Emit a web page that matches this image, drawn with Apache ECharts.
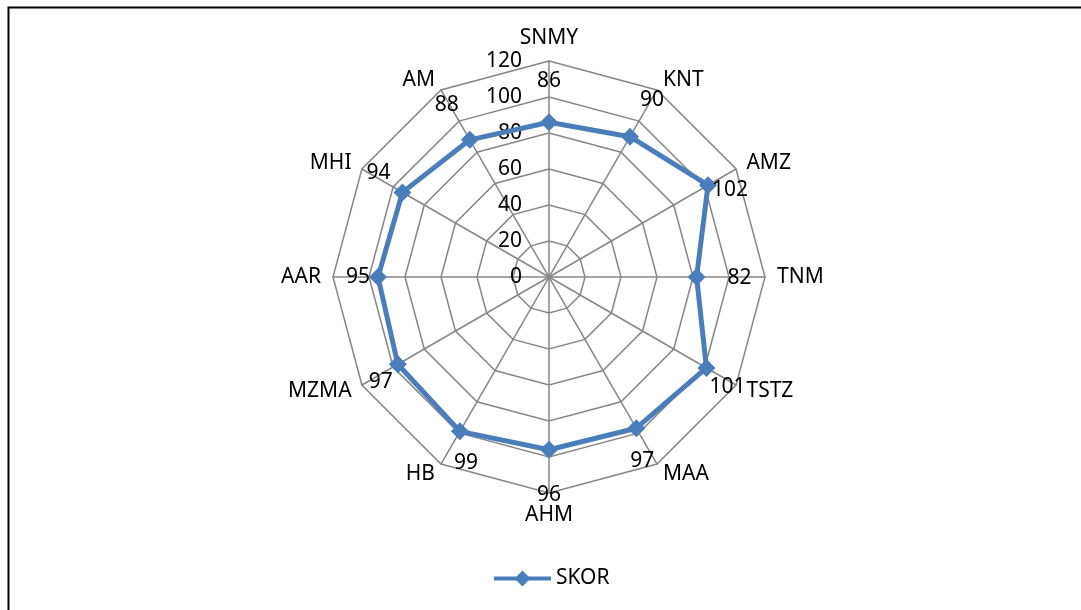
<!DOCTYPE html>
<html>
<head>
<meta charset="utf-8">
<script src="https://cdn.jsdelivr.net/npm/echarts@6/dist/echarts.min.js"></script>
<style>
html,body{margin:0;padding:0;background:#fff;}
#c{width:1081px;height:610px;}
</style>
</head>
<body>
<div id="c"></div>
<script>
// Data (clockwise from top)
const categories = ['SNMY','KNT','AMZ','TNM','TSTZ','MAA','AHM','HB','MZMA','AAR','MHI','AM'];
const skor = [86, 90, 102, 82, 101, 97, 96, 99, 97, 95, 94, 88];
const seriesName = 'SKOR';
const axisMax = 120;
const axisStep = 20;

// Style: data-label offsets (px) relative to each point, clockwise order
const labelOffsets = [[0,-41],[22,-37],[22,5],[43,1],[21,19],[6,33],[0,45],[6,32],[-17,18],[-20,0],[-24,-19],[-23,-35]];

const FONT = 'Noto Sans';
const BLUE = '#4A7EBB';
const GRIDC = '#878787';

// ECharts radar lays indicators counter-clockwise: reorder for clockwise reading
const order = [0].concat(categories.map((_, i) => i).slice(1).reverse());
const indicators = order.map((idx, k) => {
  const ind = { name: categories[idx], min: 0, max: axisMax };
  if (k === 0) ind.axisLabel = { show: true };
  return ind;
});
const radarValues = order.map(idx => skor[idx]);

const chart = echarts.init(document.getElementById('c'));
chart.setOption({
  animation: false,
  backgroundColor: '#fff',
  textStyle: { fontFamily: FONT },
  graphic: [{
    type: 'rect', left: 6, top: 5, silent: true,
    shape: { width: 1100, height: 700 },
    style: { fill: 'none', stroke: '#000', lineWidth: 2 }
  }],
  legend: {
    data: [seriesName],
    left: 487, top: 563,
    itemWidth: 57, itemHeight: 20, itemGap: 10,
    lineStyle: { width: 4 },
    textStyle: { fontSize: 21, color: '#000', fontFamily: FONT }
  },
  grid: { left: 0, top: 0, width: 10, height: 10, show: false },
  xAxis: { show: false, type: 'value' },
  yAxis: { show: false, type: 'value' },
  radar: {
    center: [549, 277],
    radius: 216,
    startAngle: 90,
    shape: 'polygon',
    splitNumber: axisMax / axisStep,
    nameGap: 12,
    axisName: { color: '#000', fontSize: 21, fontFamily: FONT },
    axisLine: { lineStyle: { color: GRIDC, width: 1.5 } },
    splitLine: { lineStyle: { color: GRIDC, width: 1.5 } },
    splitArea: { show: false },
    axisTick: { show: false },
    axisLabel: { show: false, color: '#000', fontSize: 21, fontFamily: FONT, margin: 27 },
    indicator: indicators
  },
  polar: { center: [549, 277], radius: 216 },
  angleAxis: {
    type: 'category', data: categories, startAngle: 90, clockwise: true,
    boundaryGap: false, show: false
  },
  radiusAxis: { type: 'value', min: 0, max: axisMax, show: false },
  series: [
    {
      name: seriesName, type: 'line', xAxisIndex: 0, yAxisIndex: 0,
      data: [], symbol: 'diamond', symbolSize: 18,
      lineStyle: { color: BLUE, width: 4 }, itemStyle: { color: BLUE }
    },
    {
      name: seriesName, type: 'radar',
      symbol: 'diamond', symbolSize: 18,
      lineStyle: { color: BLUE, width: 5 },
      itemStyle: { color: BLUE },
      data: [{ value: radarValues, name: seriesName }],
      z: 3
    },
    {
      name: 'labels', type: 'scatter', coordinateSystem: 'polar',
      symbolSize: 0, silent: true,
      itemStyle: { opacity: 1 },
      data: skor.map((v, i) => ({
        value: [v, i],
        label: { offset: labelOffsets[i] }
      })),
      label: {
        show: true, position: 'inside', color: '#000', opacity: 1, fontSize: 21, fontFamily: FONT,
        formatter: p => String(p.value[0])
      },
      z: 4
    }
  ]
});
</script>
</body>
</html>
